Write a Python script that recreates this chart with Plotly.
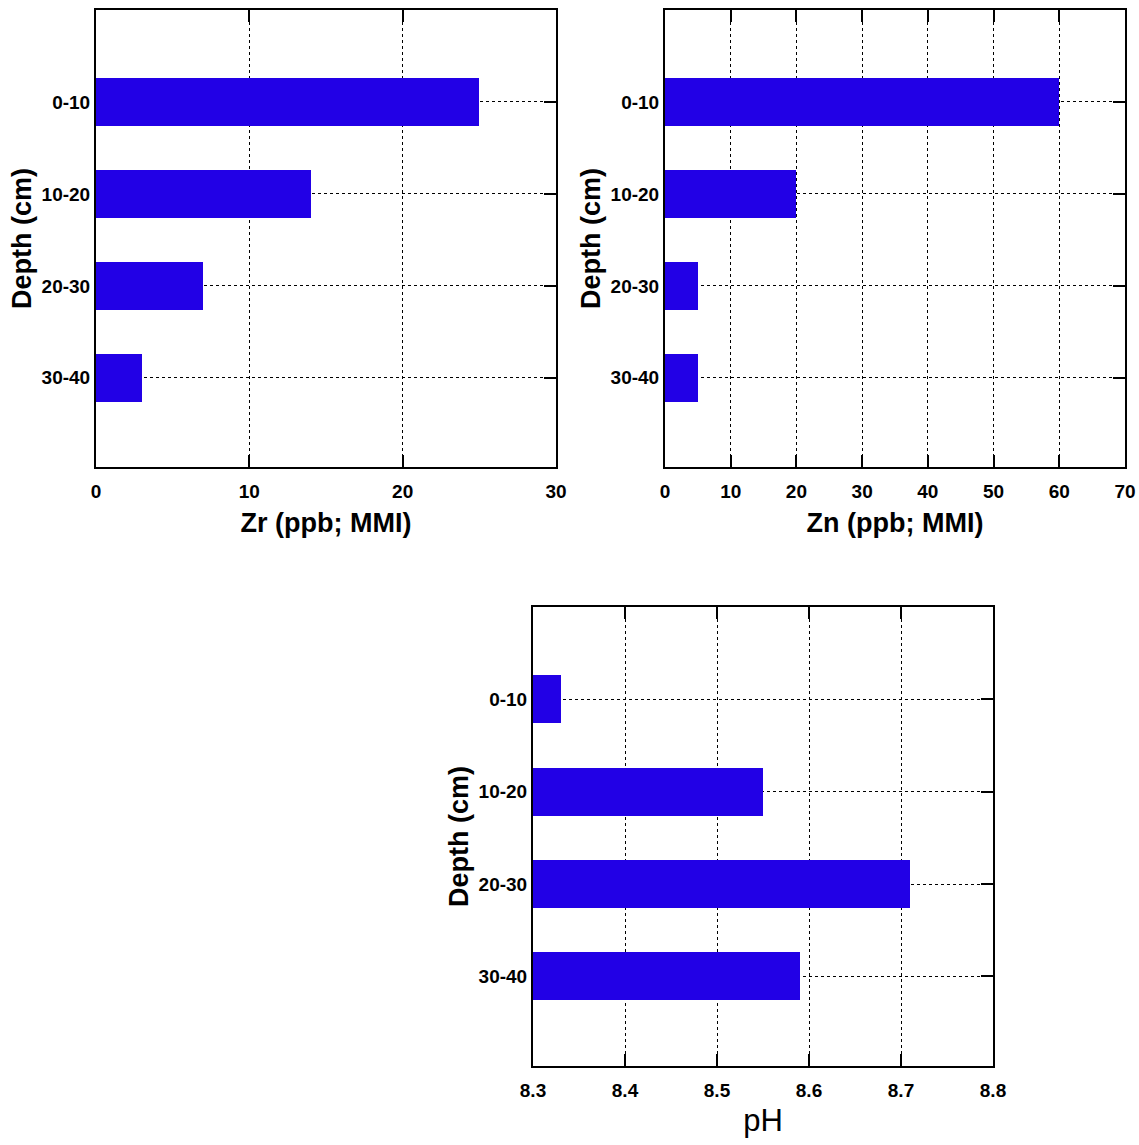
import plotly.graph_objects as go

depths = ["0-10", "10-20", "20-30", "30-40"]
zr_values = [25, 14, 7, 3]
zn_values = [60, 20, 5, 5]
ph_values = [8.33, 8.55, 8.71, 8.59]

zr_ticks = [0, 10, 20, 30]
zn_ticks = [0, 10, 20, 30, 40, 50, 60, 70]
ph_ticks = [8.3, 8.4, 8.5, 8.6, 8.7, 8.8]

BAR = "#2200e6"
W, H = 1139, 1145
tickfont = dict(family="Liberation Sans, Arial", size=19, color="black", weight="bold")
titlefont = dict(family="Liberation Sans, Arial", size=27, color="black", weight="bold")

fig = go.Figure()
fig.add_trace(go.Bar(y=depths, x=zr_values, orientation="h", marker=dict(color=BAR, line=dict(width=0)),
                     width=0.52, xaxis="x", yaxis="y", showlegend=False))
fig.add_trace(go.Bar(y=depths, x=zn_values, orientation="h", marker=dict(color=BAR, line=dict(width=0)),
                     width=0.52, xaxis="x2", yaxis="y2", showlegend=False))
fig.add_trace(go.Bar(y=depths, x=ph_values, base=0, orientation="h", marker=dict(color=BAR, line=dict(width=0)),
                     width=0.52, xaxis="x3", yaxis="y3", showlegend=False))

def xax(domain, rng, ticks, title, anchor, tfont, standoff):
    return dict(domain=domain, range=rng, tickvals=ticks, ticktext=[str(t) for t in ticks],
                showgrid=True, gridcolor="black", griddash="dot", gridwidth=1,
                showline=True, linecolor="black", linewidth=2, mirror="ticks",
                ticks="inside", ticklen=12, tickwidth=2, tickcolor="black",
                tickfont=tickfont, ticklabelstandoff=6,
                title=dict(text=title, font=tfont, standoff=standoff),
                zeroline=False, anchor=anchor, automargin=False, layer="below traces", fixedrange=True)

def yax(domain, anchor):
    return dict(domain=domain, type="category", categoryorder="array", categoryarray=depths,
                range=[3.97, -1], showgrid=True, gridcolor="black", griddash="dot", gridwidth=1,
                showline=True, linecolor="black", linewidth=2, mirror="ticks",
                ticks="inside", ticklen=12, tickwidth=2, tickcolor="black",
                tickfont=tickfont, title=dict(text="Depth (cm)", font=titlefont, standoff=2),
                anchor=anchor, automargin=False, layer="below traces", fixedrange=True)

top = [1 - 467 / H, 1 - 10 / H]
bot = [1 - 1066 / H, 1 - 607 / H]

phfont = dict(family="Liberation Sans, Arial", size=31, color="black")

fig.update_layout(
    width=W, height=H, margin=dict(l=0, r=0, t=0, b=0),
    template="none", plot_bgcolor="white", paper_bgcolor="white",
    bargap=0,
    xaxis=xax([96 / W, 556 / W], [0, 30], zr_ticks, "Zr (ppb; MMI)", "y", titlefont, 12),
    yaxis=yax(top, "x"),
    xaxis2=xax([665 / W, 1125 / W], [0, 70], zn_ticks, "Zn (ppb; MMI)", "y2", titlefont, 12),
    yaxis2=yax(top, "x2"),
    xaxis3=xax([533 / W, 993 / W], [8.3, 8.8], ph_ticks, "pH", "y3", phfont, 10),
    yaxis3=yax(bot, "x3"),
)

fig.write_html("out.html")
